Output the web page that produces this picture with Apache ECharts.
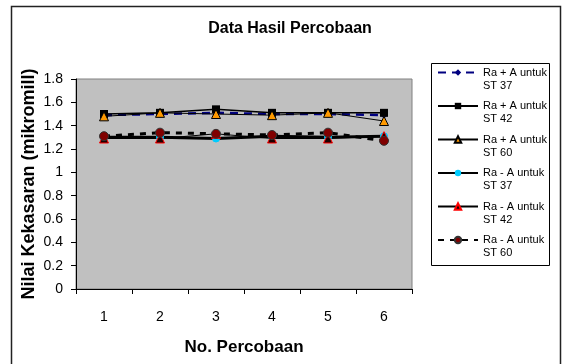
<!DOCTYPE html>
<html>
<head>
<meta charset="utf-8">
<script src="https://cdn.jsdelivr.net/npm/echarts@6/dist/echarts.min.js"></script>
<style>
  html, body { margin: 0; padding: 0; background: #fff; }
  #chart { width: 562px; height: 364px; }
</style>
</head>
<body>
<div id="chart"></div>
<script>
const percobaan = ['1', '2', '3', '4', '5', '6'];
const seriesNames = [
  'Ra + A untuk\nST 37',
  'Ra + A untuk\nST 42',
  'Ra + A untuk\nST 60',
  'Ra - A untuk\nST 37',
  'Ra - A untuk\nST 42',
  'Ra - A untuk\nST 60'
];
const raPlusSt37 = [1.49, 1.50, 1.51, 1.50, 1.50, 1.49];
const raPlusSt42 = [1.50, 1.51, 1.54, 1.51, 1.51, 1.51];
const raPlusSt60 = [1.48, 1.51, 1.50, 1.49, 1.51, 1.44];
const raMinSt37 = [1.30, 1.30, 1.29, 1.31, 1.30, 1.31];
const raMinSt42 = [1.29, 1.29, 1.33, 1.29, 1.29, 1.31];
const raMinSt60 = [1.31, 1.34, 1.33, 1.32, 1.34, 1.27];

const chart = echarts.init(document.getElementById('chart'));

const font = 'Arial, "Liberation Sans", sans-serif';

const option = {
  animation: false,
  title: {
    text: 'Data Hasil Percobaan',
    left: 285,
    top: 16,
    textAlign: 'center',
    textStyle: { fontFamily: font, fontSize: 16, fontWeight: 'bold', color: '#000' }
  },
  graphic: [
    {
      // bingkai luar
      type: 'rect',
      shape: { x: 11.5, y: 6.5, width: 549, height: 400 },
      style: { fill: null, stroke: '#222', lineWidth: 1.5 },
      z: 0
    },
    {
      // kotak legenda
      type: 'rect',
      shape: { x: 431.5, y: 63.5, width: 118, height: 202 },
      style: { fill: '#fff', stroke: '#000', lineWidth: 1 },
      z: 0
    }
  ],
  legend: {
    orient: 'vertical',
    left: 437,
    top: 53,
    itemWidth: 40,
    itemHeight: 8,
    itemGap: -5.5,
    padding: 0,
    data: seriesNames,
    formatter: function (name) {
      return ' \n' + name;
    },
    textStyle: {
      fontFamily: font,
      fontSize: 11,
      color: '#000',
      lineHeight: 13
    }
  },
  grid: {
    left: 76,
    right: 150,
    top: 79,
    bottom: 75,
    show: true,
    backgroundColor: '#C0C0C0',
    borderColor: '#808080',
    borderWidth: 1
  },
  xAxis: {
    type: 'category',
    data: percobaan,
    name: 'No. Percobaan',
    nameLocation: 'middle',
    nameGap: 50,
    nameTextStyle: { fontFamily: font, fontSize: 17, fontWeight: 'bold', color: '#000' },
    axisLine: { lineStyle: { color: '#000', width: 1 } },
    axisTick: { show: true, length: 5, lineStyle: { color: '#000' } },
    axisLabel: { fontFamily: font, fontSize: 14, color: '#000', margin: 21 }
  },
  yAxis: {
    type: 'value',
    min: 0,
    max: 1.8,
    interval: 0.2,
    name: 'Nilai Kekasaran (mikromill)',
    nameLocation: 'middle',
    nameGap: 38,
    nameMoveOverlap: false,
    nameTextStyle: { fontFamily: font, fontSize: 18, fontWeight: 'bold', color: '#000' },
    axisLine: { show: true, lineStyle: { color: '#000', width: 1 } },
    axisTick: { show: true, length: 5, lineStyle: { color: '#000' } },
    axisLabel: { fontFamily: font, fontSize: 14, color: '#000', margin: 13 },
    splitLine: { show: false }
  },
  series: [
    {
      name: seriesNames[0], type: 'line', data: raPlusSt37,
      symbol: 'diamond', symbolSize: 7,
      lineStyle: { color: '#000080', width: 2.5, type: [8, 6] },
      itemStyle: { color: '#000080' }
    },
    {
      name: seriesNames[1], type: 'line', data: raPlusSt42,
      symbol: 'rect', symbolSize: 8,
      lineStyle: { color: '#000', width: 1.5 },
      itemStyle: { color: '#000' }
    },
    {
      name: seriesNames[2], type: 'line', data: raPlusSt60,
      symbol: 'triangle', symbolSize: 9,
      lineStyle: { color: '#000', width: 1 },
      itemStyle: { color: '#FF9900', borderColor: '#000', borderWidth: 1 }
    },
    {
      name: seriesNames[3], type: 'line', data: raMinSt37,
      symbol: 'circle', symbolSize: 7,
      lineStyle: { color: '#000', width: 3 },
      itemStyle: { color: '#00CCFF', borderColor: '#00CCFF' }
    },
    {
      name: seriesNames[4], type: 'line', data: raMinSt42,
      symbol: 'triangle', symbolSize: 9,
      lineStyle: { color: '#000', width: 1 },
      itemStyle: { color: '#1a0000', borderColor: '#FF0000', borderWidth: 1 }
    },
    {
      name: seriesNames[5], type: 'line', data: raMinSt60,
      symbol: 'circle', symbolSize: 9,
      lineStyle: { color: '#000', width: 3, type: [6, 6] },
      itemStyle: { color: '#800000', borderColor: '#333', borderWidth: 1 }
    }
  ]
};

chart.setOption(option);
</script>
</body>
</html>
